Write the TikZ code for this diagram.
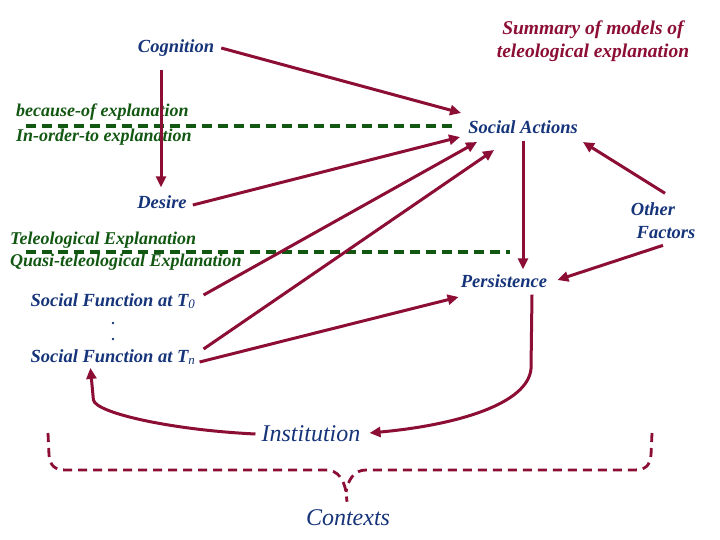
\documentclass[tikz,border=0pt]{standalone}
\usepackage{fontspec}
\setmainfont{Liberation Serif}
\usetikzlibrary{arrows.meta,calc}
\definecolor{navy}{RGB}{22,52,122}
\definecolor{dgreen}{RGB}{18,88,18}
\definecolor{crim}{RGB}{140,14,52}
\begin{document}
\begin{tikzpicture}[x=1pt,y=-1pt,
  lbl/.style={inner sep=0pt,text=navy,font=\fontsize{18.5}{22}\selectfont\bfseries\itshape},
  glbl/.style={inner sep=0pt,anchor=west,text=dgreen,font=\fontsize{18}{22}\selectfont\bfseries\itshape},
  big/.style={inner sep=0pt,text=navy,font=\fontsize{24}{28}\selectfont\itshape},
  conn/.style={draw=crim,line width=3pt,-{Triangle[length=11pt,width=10pt]}},
  gline/.style={draw=dgreen,line width=3.2pt,dash pattern=on 10pt off 6pt},
  brace/.style={draw=crim,line width=2.8pt,dash pattern=on 9pt off 6pt}]
\useasboundingbox (0,0) rectangle (720,540);
\fill[white] (0,0) rectangle (720,540);
% title
\node[inner sep=0pt,align=center,text=crim,font=\fontsize{19.5}{23}\selectfont\bfseries\itshape] (title) at (593,41) {Summary of models of\\teleological explanation};
% nodes
\node[lbl] (cog) at (176,48) {Cognition};
\node[glbl] (bec) at (16,112) {because-of explanation};
\node[glbl] (ino) at (16,137) {In-order-to explanation};
\node[lbl] (sa) at (523,127) {Social Actions};
\node[lbl] (des) at (162,202) {Desire};
\node[lbl] (oth) at (653,209) {Other};
\node[lbl] (fac) at (666,233) {Factors};
\node[glbl] (tel) at (10,240) {Teleological Explanation};
\node[glbl] (qua) at (10,262) {Quasi-teleological Explanation};
\node[lbl] (pers) at (504,281) {Persistence};
\node[lbl] (t0) at (113,301) {Social Function at T\textsubscript{\normalfont\itshape 0}};
\node[inner sep=0pt,text=navy,font=\fontsize{14}{16}\selectfont\bfseries,align=center] (dots) at (113,332) {.\\.};
\node[lbl] (tn) at (113,357) {Social Function at T\textsubscript{\normalfont\itshape n}};
\node[big] (inst) at (311,434) {Institution};
\node[big] (ctx) at (348,518) {Contexts};
% green dashed lines
\coordinate (g1a) at (26,126);
\coordinate (g1b) at (452,126);
\coordinate (g2a) at (26,252);
\coordinate (g2b) at (510,252);
\draw[gline] (g1a) -- (g1b);
\draw[gline] (g2a) -- (g2b);
% connectors
\draw[conn] ($(cog.east)+(7,0)$) -- ($(sa.west)+(-7,-14)$);
\draw[conn] ($(cog.south)+(-15,13)$) -- ($(des.north)+(-1,-8)$);
\draw[conn] ($(des.east)+(6,3)$) -- ($(sa.west)+(-8,10)$);
\draw[conn] ($(t0.east)+(8,-6)$) -- ($(sa.west)+(9,15)$);
\draw[conn] ($(tn.east)+(8,-8)$) -- ($(sa.west)+(26,23)$);
\draw[conn] ($(tn.east)+(4,5)$) -- ($(pers.west)+(-2,16)$);
\draw[conn] ($(sa.south)+(0,7)$) -- ($(sa.south |- pers.north)+(0,-5)$);
\draw[conn] ($(oth.north)+(12,-9)$) -- ($(sa.east)+(5,15)$);
\draw[conn] ($(fac.south)+(-3,6)$) -- ($(pers.east)+(10,-1)$);
\draw[conn] ($(pers.south)+(28,7)$) -- ($(pers.south)+(27,81)$)
   .. controls ($(pers.south)+(24,116)$) and ($(inst.east)+(97,-9)$) .. ($(inst.east)+(9,-1)$);
\draw[conn] ($(inst.west)+(-6,0)$) .. controls ($(inst.west)+(-90,-4)$) and ($(tn.south west)+(65,48)$) .. ($(tn.south west)+(63,35)$) -- ($(tn.south west)+(60,3)$);
% brace
\coordinate (bl) at (48,433);
\coordinate (br) at (652,433);
\draw[brace] (bl) -- (49,455) .. controls (50,466) and (55,470) .. (66,470) -- (326,470)
  .. controls (338,470) and (344,480) .. (346,492) -- ($(ctx.north)+(-1,-8)$);
\draw[brace] (br) -- (651,455) .. controls (650,466) and (645,470) .. (634,470) -- (366,470)
  .. controls (354,470) and (348,480) .. (346,492);
\end{tikzpicture}
\end{document}
